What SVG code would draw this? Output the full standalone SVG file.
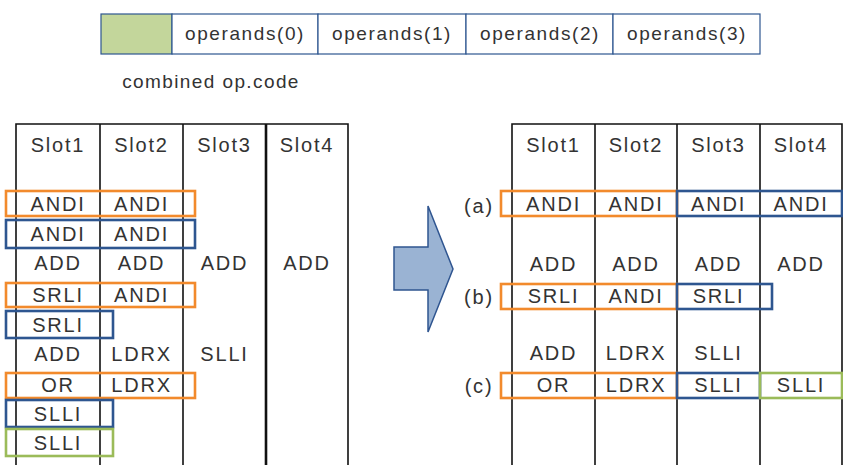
<svg xmlns="http://www.w3.org/2000/svg" width="843" height="465" viewBox="0 0 843 465">
<style>
text{font-family:"Liberation Sans",Arial,sans-serif;fill:#333;dominant-baseline:central;text-anchor:middle}
.t{font-size:20px;letter-spacing:1.8px}
.op{font-size:19px;letter-spacing:1.6px}
.grid{stroke:#111;stroke-width:1.6;fill:none}
.or{fill:none;stroke:#F28A2C;stroke-width:2.6}
.bl{fill:none;stroke:#2E5690;stroke-width:2.6}
.gr{fill:none;stroke:#9BBB59;stroke-width:2.6}
.cell{fill:#fff;stroke:#2E5690;stroke-width:1.2}
</style>
<rect width="843" height="465" fill="#fff"/>
<g id="opcode-bar">
<rect x="101" y="14" width="71" height="40" fill="#C3D69B" stroke="#2E5690" stroke-width="1.2"/>
<rect class="cell" x="172" y="14" width="146" height="40"/>
<rect class="cell" x="318" y="14" width="148" height="40"/>
<rect class="cell" x="466" y="14" width="147" height="40"/>
<rect class="cell" x="613" y="14" width="147" height="40"/>
<text class="op" x="245" y="33">operands(0)</text>
<text class="op" x="392" y="33">operands(1)</text>
<text class="op" x="540" y="33">operands(2)</text>
<text class="op" x="687" y="33">operands(3)</text>
<text class="op" x="211" y="81" style="letter-spacing:1.4px">combined op.code</text>
</g>
<g id="left-table">
<path class="grid" d="M16,465V124H348V465M100,124V465M183,124V465"/>
<path d="M266,124V465" stroke="#111" stroke-width="2.6"/>
<g class="t">
<text x="58" y="145">Slot1</text><text x="141.5" y="145">Slot2</text><text x="224.5" y="145">Slot3</text><text x="307" y="145">Slot4</text>
<text x="58" y="204">ANDI</text><text x="141.5" y="204">ANDI</text>
<text x="58" y="234">ANDI</text><text x="141.5" y="234">ANDI</text>
<text x="58" y="263">ADD</text><text x="141.5" y="263">ADD</text><text x="224.5" y="263">ADD</text><text x="307" y="263">ADD</text>
<text x="58" y="295">SRLI</text><text x="141.5" y="295">ANDI</text>
<text x="58" y="325">SRLI</text>
<text x="58" y="354">ADD</text><text x="141.5" y="354">LDRX</text><text x="224.5" y="354">SLLI</text>
<text x="58" y="385">OR</text><text x="141.5" y="385">LDRX</text>
<text x="58" y="414">SLLI</text>
<text x="58" y="443">SLLI</text>
</g>
<rect class="or" x="6" y="191" width="189" height="25"/>
<rect class="bl" x="6" y="220" width="189" height="28"/>
<rect class="or" x="6" y="283" width="189" height="24"/>
<rect class="bl" x="6" y="311" width="107" height="27"/>
<rect class="or" x="6" y="373" width="189" height="25"/>
<rect class="bl" x="6" y="400" width="107" height="27"/>
<rect class="gr" x="6" y="429" width="107" height="27"/>
</g>
<g id="arrow">
<polygon points="394,247 428,247 428,206 453,269 428,332 428,290 394,290" fill="#9AB3D3" stroke="#2F5590" stroke-width="1.5" stroke-linejoin="miter"/>
</g>
<g id="right-table">
<path class="grid" d="M512,465V124H842V465M595,124V465M677,124V465M760,124V465"/>
<g class="t">
<text x="553.5" y="145">Slot1</text><text x="636" y="145">Slot2</text><text x="718.5" y="145">Slot3</text><text x="801" y="145">Slot4</text>
<text x="553.5" y="204">ANDI</text><text x="636" y="204">ANDI</text><text x="718.5" y="204">ANDI</text><text x="801" y="204">ANDI</text>
<text x="553.5" y="264">ADD</text><text x="636" y="264">ADD</text><text x="718.5" y="264">ADD</text><text x="801" y="264">ADD</text>
<text x="553.5" y="296">SRLI</text><text x="636" y="296">ANDI</text><text x="718.5" y="296">SRLI</text>
<text x="553.5" y="353">ADD</text><text x="636" y="353">LDRX</text><text x="718.5" y="353">SLLI</text>
<text x="553.5" y="385">OR</text><text x="636" y="385">LDRX</text><text x="718.5" y="385">SLLI</text><text x="801" y="385">SLLI</text>
<text x="479" y="206">(a)</text>
<text x="479" y="297">(b)</text>
<text x="479" y="386">(c)</text>
</g>
<rect class="or" x="501" y="191" width="176" height="25"/>
<rect class="bl" x="677" y="191" width="165" height="25"/>
<rect class="or" x="501" y="284" width="176" height="25"/>
<rect class="bl" x="677" y="284" width="95" height="25"/>
<rect class="or" x="501" y="373" width="176" height="25"/>
<rect class="bl" x="677" y="373" width="83" height="25"/>
<rect class="gr" x="760" y="373" width="82" height="25"/>
</g>
</svg>
